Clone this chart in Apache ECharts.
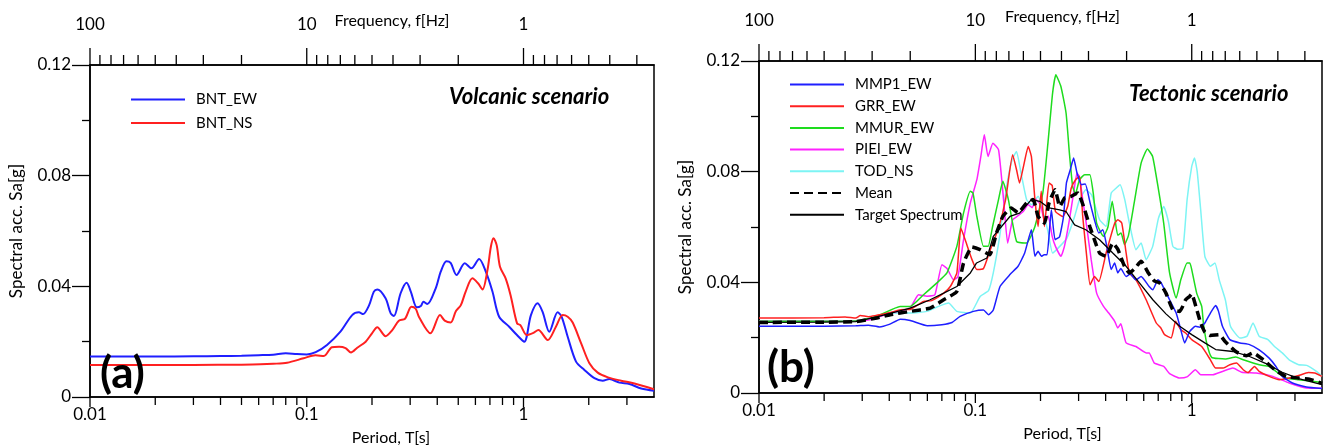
<!DOCTYPE html>
<html>
<head>
<meta charset="utf-8">
<title>Response spectra</title>
<script src="https://cdn.jsdelivr.net/npm/echarts@6/dist/echarts.min.js"></script>
<style>
  html, body { margin: 0; padding: 0; background: #ffffff; }
  #chart { width: 1323px; height: 446px; }
</style>
</head>
<body>
<div id="chart"></div>
<script>
// ---- Spectral accelerations [T (s), Sa (g)] ----
// (a) volcanic scenario
const bntEW = [[0.01,0.0146],[0.02,0.0146],[0.03,0.0147],[0.04,0.0148],[0.05,0.0149],[0.06,0.0151],[0.07,0.0153],[0.08,0.0158],[0.09,0.0155],[0.1,0.0154],[0.11,0.0162],[0.124,0.0188],[0.143,0.0236],[0.162,0.0296],[0.174,0.0306],[0.182,0.03],[0.194,0.0332],[0.204,0.0381],[0.2115,0.0389],[0.231,0.0357],[0.244,0.0302],[0.2525,0.0293],[0.271,0.0375],[0.289,0.0413],[0.302,0.0381],[0.322,0.0324],[0.336,0.0329],[0.345,0.0344],[0.36,0.0336],[0.3935,0.0393],[0.415,0.0453],[0.441,0.0491],[0.461,0.0485],[0.491,0.0441],[0.536,0.0483],[0.575,0.0465],[0.624,0.0499],[0.67,0.0453],[0.719,0.0381],[0.772,0.029],[0.859,0.0254],[0.933,0.0224],[1.008,0.02],[1.082,0.0296],[1.161,0.0339],[1.225,0.0308],[1.315,0.0236],[1.437,0.0306],[1.5,0.029],[1.599,0.0218],[1.747,0.0128],[1.909,0.0098],[2.124,0.0068],[2.32,0.0059],[2.49,0.0065],[2.77,0.0052],[3.08,0.0047],[3.49,0.0031],[4.0,0.0023]];
const bntNS = [[0.01,0.0116],[0.03,0.0116],[0.05,0.0117],[0.0612,0.0118],[0.07,0.012],[0.0812,0.0124],[0.0967,0.014],[0.1097,0.0151],[0.12,0.0148],[0.1306,0.018],[0.141,0.0182],[0.151,0.0177],[0.16,0.0161],[0.171,0.0178],[0.187,0.02],[0.2,0.023],[0.2115,0.0252],[0.231,0.022],[0.248,0.0242],[0.266,0.0276],[0.284,0.0283],[0.304,0.0326],[0.318,0.0319],[0.33,0.0288],[0.372,0.023],[0.412,0.0296],[0.433,0.0276],[0.461,0.0269],[0.488,0.0311],[0.514,0.0332],[0.541,0.0381],[0.581,0.0429],[0.617,0.0411],[0.647,0.0389],[0.682,0.0459],[0.707,0.0543],[0.727,0.0574],[0.752,0.0549],[0.779,0.0471],[0.827,0.0429],[0.871,0.0369],[0.934,0.0266],[0.967,0.026],[1.036,0.0224],[1.111,0.0232],[1.171,0.0242],[1.293,0.0206],[1.411,0.0254],[1.516,0.0296],[1.599,0.029],[1.686,0.0269],[1.845,0.0194],[2.014,0.0122],[2.2,0.0088],[2.45,0.0071],[2.82,0.0059],[3.25,0.0049],[4.0,0.0028]];

// (b) tectonic scenario
const mmp1EW = [[0.01,0.0241],[0.02,0.0241],[0.028,0.0243],[0.032,0.0245],[0.036,0.0239],[0.04,0.0248],[0.045,0.0267],[0.05,0.0262],[0.06,0.0243],[0.07,0.0247],[0.078,0.0255],[0.085,0.0277],[0.098,0.0295],[0.109,0.03],[0.115,0.0283],[0.121,0.03],[0.13,0.0385],[0.1445,0.0428],[0.1575,0.0458],[0.169,0.0506],[0.1815,0.059],[0.1885,0.0494],[0.195,0.0512],[0.202,0.0494],[0.208,0.05],[0.2145,0.05],[0.2245,0.0662],[0.2335,0.0554],[0.245,0.0565],[0.2555,0.0638],[0.2635,0.0759],[0.2745,0.0807],[0.2845,0.0849],[0.295,0.0795],[0.3095,0.0753],[0.322,0.0755],[0.339,0.0687],[0.355,0.0626],[0.372,0.0578],[0.388,0.059],[0.405,0.053],[0.4245,0.0446],[0.44,0.047],[0.4555,0.0434],[0.47,0.045],[0.4975,0.0421],[0.52,0.043],[0.5525,0.0409],[0.5835,0.0421],[0.6355,0.0385],[0.661,0.0373],[0.698,0.0409],[0.72,0.04],[0.79,0.0337],[0.8475,0.0289],[0.89,0.0229],[0.9275,0.0181],[0.9775,0.0222],[1.04,0.0241],[1.09,0.0238],[1.15,0.0253],[1.22,0.0289],[1.29,0.0316],[1.33,0.0295],[1.387,0.0241],[1.5,0.0193],[1.67,0.0181],[1.85,0.0175],[2.05,0.0156],[2.28,0.0126],[2.45,0.0096],[2.62,0.006],[2.92,0.0036],[3.39,0.0022],[4.0,0.0016]];
const grrEW = [[0.01,0.0271],[0.02,0.0272],[0.025,0.0275],[0.028,0.0271],[0.0294,0.028],[0.032,0.0276],[0.0404,0.0291],[0.0449,0.0301],[0.05,0.0302],[0.0576,0.0331],[0.0628,0.0334],[0.0714,0.0361],[0.0766,0.0385],[0.0821,0.0434],[0.0857,0.0596],[0.0897,0.0554],[0.0965,0.0482],[0.1016,0.0446],[0.109,0.045],[0.1172,0.0518],[0.128,0.0596],[0.138,0.07],[0.1487,0.0861],[0.155,0.0807],[0.16,0.0759],[0.167,0.082],[0.1755,0.0891],[0.1815,0.0855],[0.1885,0.0699],[0.195,0.0602],[0.2015,0.0729],[0.2085,0.0602],[0.219,0.0759],[0.2265,0.075],[0.2345,0.0656],[0.2535,0.0638],[0.267,0.0674],[0.2775,0.0741],[0.29,0.077],[0.303,0.0783],[0.3135,0.0638],[0.327,0.0494],[0.339,0.0391],[0.355,0.0421],[0.372,0.0403],[0.402,0.0506],[0.4405,0.0614],[0.4555,0.0626],[0.475,0.0614],[0.4975,0.0506],[0.515,0.0434],[0.5525,0.0409],[0.6155,0.0337],[0.6855,0.0253],[0.72,0.0235],[0.749,0.0211],[0.804,0.0199],[0.842,0.0259],[0.89,0.0229],[0.9375,0.0217],[1.0,0.0193],[1.112,0.0168],[1.22,0.012],[1.29,0.009],[1.4,0.009],[1.5,0.0102],[1.61,0.0108],[1.73,0.0084],[1.82,0.0074],[1.95,0.0096],[2.05,0.0078],[2.28,0.006],[2.54,0.0048],[2.82,0.0054],[3.12,0.0063],[3.46,0.0074],[3.7,0.0072],[4.0,0.006]];
const mmurEW = [[0.01,0.0259],[0.02,0.0259],[0.028,0.026],[0.035,0.0277],[0.0449,0.0313],[0.05,0.0313],[0.0576,0.0355],[0.0664,0.0398],[0.0739,0.0434],[0.0821,0.053],[0.0882,0.0651],[0.0948,0.0729],[0.0975,0.0723],[0.1016,0.0638],[0.109,0.053],[0.1145,0.053],[0.12,0.06],[0.128,0.07],[0.134,0.0765],[0.142,0.07],[0.155,0.0548],[0.1725,0.0542],[0.1885,0.0602],[0.205,0.0723],[0.2165,0.0904],[0.2275,0.1084],[0.2355,0.115],[0.2485,0.1108],[0.2625,0.1012],[0.272,0.0867],[0.2815,0.0747],[0.29,0.072],[0.303,0.0771],[0.32,0.0789],[0.338,0.0789],[0.3505,0.0723],[0.3635,0.0614],[0.391,0.0566],[0.41,0.06],[0.429,0.0693],[0.4405,0.0638],[0.455,0.057],[0.4715,0.0578],[0.489,0.0536],[0.51,0.057],[0.542,0.0687],[0.5835,0.0831],[0.624,0.0882],[0.6595,0.0855],[0.702,0.0735],[0.742,0.0614],[0.79,0.0434],[0.8475,0.0343],[0.89,0.0409],[0.952,0.047],[0.98,0.047],[1.0,0.0446],[1.054,0.0361],[1.112,0.0313],[1.132,0.0253],[1.173,0.018],[1.236,0.0129],[1.43,0.0123],[1.6,0.013],[1.73,0.012],[2.05,0.0102],[2.28,0.0096],[2.45,0.0078],[2.73,0.0054],[3.12,0.0048],[4.0,0.0038]];
const pieiEW = [[0.01,0.0259],[0.02,0.0259],[0.028,0.026],[0.033,0.0266],[0.0404,0.0289],[0.0499,0.0307],[0.0546,0.0355],[0.06,0.035],[0.065,0.0355],[0.0701,0.0464],[0.074,0.045],[0.0793,0.0409],[0.083,0.042],[0.0882,0.0554],[0.0948,0.0687],[0.1016,0.0771],[0.106,0.0855],[0.11,0.0933],[0.1144,0.0855],[0.1205,0.0903],[0.128,0.0879],[0.135,0.0699],[0.141,0.0542],[0.1487,0.0626],[0.157,0.064],[0.1664,0.0656],[0.1755,0.0681],[0.183,0.067],[0.1905,0.0699],[0.2,0.068],[0.2085,0.0626],[0.217,0.064],[0.2265,0.0566],[0.2345,0.053],[0.2485,0.0494],[0.258,0.053],[0.272,0.0626],[0.2845,0.0723],[0.295,0.0795],[0.303,0.078],[0.3135,0.0699],[0.327,0.0602],[0.343,0.0482],[0.3635,0.0361],[0.391,0.0313],[0.4135,0.0289],[0.4405,0.0259],[0.455,0.0235],[0.47,0.025],[0.4975,0.0181],[0.5525,0.0168],[0.6155,0.0145],[0.6355,0.0145],[0.672,0.0108],[0.742,0.0096],[0.79,0.007],[0.88,0.0054],[0.95,0.0058],[1.04,0.0084],[1.1,0.0066],[1.25,0.0066],[1.387,0.0078],[1.55,0.009],[1.7,0.0075],[1.985,0.0072],[2.37,0.006],[2.82,0.0036],[3.39,0.0018],[4.0,0.0017]];
const todNS = [[0.01,0.0259],[0.02,0.0259],[0.03,0.0262],[0.0404,0.0289],[0.05,0.0289],[0.0597,0.0295],[0.0676,0.0313],[0.0752,0.0325],[0.0821,0.0295],[0.0948,0.0289],[0.1052,0.0349],[0.115,0.037],[0.121,0.0434],[0.1295,0.0566],[0.1395,0.0747],[0.1478,0.0843],[0.155,0.0873],[0.1615,0.0807],[0.1725,0.0699],[0.182,0.068],[0.195,0.0711],[0.205,0.066],[0.2165,0.0584],[0.2275,0.0506],[0.2455,0.053],[0.265,0.056],[0.2875,0.0638],[0.303,0.0699],[0.324,0.0735],[0.345,0.0715],[0.375,0.0626],[0.402,0.0602],[0.4245,0.0723],[0.448,0.0741],[0.4665,0.0753],[0.49,0.07],[0.515,0.0614],[0.5525,0.0518],[0.5835,0.0542],[0.6155,0.0482],[0.66,0.053],[0.702,0.0632],[0.742,0.0674],[0.78,0.062],[0.818,0.053],[0.86,0.052],[0.911,0.0524],[0.952,0.0699],[1.0,0.0819],[1.03,0.0849],[1.06,0.08],[1.1,0.0662],[1.15,0.0494],[1.22,0.0458],[1.28,0.047],[1.34,0.0409],[1.43,0.0337],[1.51,0.0241],[1.67,0.0199],[1.8,0.0205],[1.92,0.0253],[2.05,0.0205],[2.25,0.0193],[2.4,0.017],[2.62,0.0145],[2.82,0.012],[3.12,0.0102],[3.4,0.01],[3.77,0.0078],[4.0,0.006]];
const meanSa = [[0.01,0.0255],[0.02,0.0256],[0.028,0.0258],[0.035,0.0271],[0.0404,0.0283],[0.05,0.0295],[0.0618,0.0307],[0.0714,0.0337],[0.0821,0.0367],[0.0882,0.047],[0.0965,0.0528],[0.1052,0.0518],[0.1165,0.05],[0.1252,0.0578],[0.134,0.0638],[0.1465,0.0669],[0.1575,0.0651],[0.1725,0.0687],[0.185,0.0699],[0.195,0.0638],[0.2085,0.0614],[0.219,0.0687],[0.2335,0.0735],[0.2455,0.0674],[0.2585,0.0705],[0.2775,0.0711],[0.2975,0.0723],[0.32,0.0662],[0.338,0.0602],[0.355,0.0554],[0.375,0.0506],[0.402,0.0494],[0.4315,0.0542],[0.455,0.052],[0.489,0.0458],[0.515,0.0434],[0.545,0.045],[0.5835,0.0476],[0.63,0.0434],[0.672,0.0405],[0.71,0.0398],[0.76,0.0361],[0.818,0.0301],[0.88,0.0295],[0.9375,0.0337],[0.9775,0.0349],[1.0,0.0358],[1.05,0.0307],[1.1,0.0253],[1.15,0.022],[1.22,0.0208],[1.34,0.0211],[1.43,0.0185],[1.61,0.0148],[1.79,0.0135],[1.92,0.0145],[2.14,0.012],[2.45,0.0081],[2.73,0.006],[3.12,0.0054],[3.5,0.005],[4.0,0.0035]];
const targetSa = [[0.01,0.0255],[0.02,0.0256],[0.028,0.0258],[0.035,0.0275],[0.05,0.0307],[0.0618,0.0337],[0.0714,0.0361],[0.0821,0.0385],[0.0948,0.0434],[0.1013,0.047],[0.1131,0.0488],[0.121,0.0566],[0.1445,0.0638],[0.16,0.065],[0.1815,0.0699],[0.1985,0.0693],[0.219,0.0669],[0.2455,0.0662],[0.2625,0.0656],[0.2875,0.0608],[0.324,0.059],[0.375,0.0554],[0.4315,0.0506],[0.4975,0.0458],[0.573,0.0398],[0.661,0.0337],[0.76,0.0286],[0.88,0.0241],[1.0,0.0211],[1.15,0.0181],[1.29,0.0157],[1.55,0.015],[1.85,0.0132],[2.22,0.0105],[2.62,0.0075],[3.12,0.0052],[4.0,0.003]];

// ---- Axis ticks ----
const periodMajorTicks = [0.01, 0.1, 1];
const periodMinorTicks = [0.02,0.03,0.04,0.05,0.06,0.07,0.08,0.09,0.2,0.3,0.4,0.5,0.6,0.7,0.8,0.9,2,3];
const freqMajorTicks = [100, 10, 1];
const freqMinorTicks = [90,80,70,60,50,40,30,20,9,8,7,6,5,4,3,2,0.9,0.8,0.7,0.6,0.5,0.4,0.3];
const periodRange = [0.01, 4];
const freqRange = [0.25, 100];
const saRange = [0, 0.12];
const saStep = 0.04;

const FONT = 'Lato';
const BLACK = '#000000';

function decadeLabel(v) {
  const e = Math.log10(v);
  if (Math.abs(e - Math.round(e)) > 1e-6) return '';
  return String(+v.toPrecision(3));
}

// short vertical strokes drawn at axis values along the bottom or top edge
function tickSeries(xIdx, yIdx, values, yVal, dir, len) {
  return {
    type: 'custom',
    xAxisIndex: xIdx,
    yAxisIndex: yIdx,
    silent: true,
    clip: false,
    z: 6,
    data: values.map(v => [v, yVal]),
    encode: { x: 0, y: 1 },
    renderItem: function (params, api) {
      const p = api.coord([api.value(0), api.value(1)]);
      return {
        type: 'line',
        shape: { x1: p[0], y1: p[1], x2: p[0], y2: p[1] + dir * len },
        style: { stroke: BLACK, lineWidth: 1.3 }
      };
    }
  };
}

function periodAxis(gridIndex, nameShift) {
  return {
    type: 'log', gridIndex: gridIndex, position: 'bottom',
    min: periodRange[0], max: periodRange[1], logBase: 10,
    name: 'Period, T[s]', nameLocation: 'middle', nameGap: 33, nameMoveOverlap: false,
    nameTextStyle: { fontFamily: FONT, fontSize: 16, color: BLACK, padding: [0, 0, 0, nameShift] },
    axisLine: { show: true, lineStyle: { color: BLACK, width: 1.5 } },
    axisTick: { show: false },
    minorTick: { show: false },
    splitLine: { show: false },
    axisLabel: { fontFamily: FONT, fontSize: 17, color: BLACK, margin: 9,
                 showMaxLabel: false, formatter: decadeLabel }
  };
}

function freqAxis(gridIndex, nameShift) {
  return {
    type: 'log', gridIndex: gridIndex, position: 'top', inverse: true,
    min: freqRange[0], max: freqRange[1], logBase: 10,
    name: 'Frequency, f[Hz]', nameLocation: 'middle', nameGap: 36, nameMoveOverlap: false,
    nameTextStyle: { fontFamily: FONT, fontSize: 16, color: BLACK, padding: [0, nameShift, 0, 0] },
    axisLine: { show: true, lineStyle: { color: BLACK, width: 1.5 } },
    axisTick: { show: false },
    minorTick: { show: false },
    splitLine: { show: false },
    axisLabel: { fontFamily: FONT, fontSize: 17, color: BLACK, margin: 32,
                 showMinLabel: false, formatter: decadeLabel }
  };
}

function saAxis(gridIndex) {
  return {
    type: 'value', gridIndex: gridIndex,
    min: saRange[0], max: saRange[1], interval: saStep,
    name: 'Spectral acc. Sa[g]', nameLocation: 'middle', nameGap: 65, nameMoveOverlap: false,
    nameTextStyle: { fontFamily: FONT, fontSize: 17, color: BLACK },
    axisLine: { show: true, lineStyle: { color: BLACK, width: 1.5 } },
    axisTick: { show: true, inside: false, length: 18, lineStyle: { color: BLACK, width: 1.3 } },
    minorTick: { show: true, splitNumber: 2, length: 8, lineStyle: { color: BLACK, width: 1.3 } },
    splitLine: { show: false },
    minorSplitLine: { show: false },
    axisLabel: { fontFamily: FONT, fontSize: 17, color: BLACK, margin: 19,
                 formatter: v => (v === 0 ? '0' : v.toFixed(2)) }
  };
}

function spectrum(name, data, color, xIdx, yIdx, width, extra) {
  return Object.assign({
    name: name, type: 'line', data: data,
    xAxisIndex: xIdx, yAxisIndex: yIdx,
    symbol: 'none', showSymbol: false, clip: true,
    lineStyle: { color: color, width: width },
    itemStyle: { color: color },
    z: 3
  }, extra || {});
}

const legendText = { fontFamily: FONT, fontSize: 15, color: BLACK, padding: [0, 0, 0, 6] };
// the legend shows the line sample only, no marker
const legendMarker = { opacity: 0, borderWidth: 0 };

const option = {
  animation: false,
  backgroundColor: '#ffffff',
  textStyle: { fontFamily: FONT },
  grid: [
    { left: 90, top: 65, width: 564, height: 332, outerBoundsMode: 'none', containLabel: false,
      show: true, borderColor: BLACK, borderWidth: 1.5, backgroundColor: 'transparent' },
    { left: 759, top: 61, width: 563, height: 332, outerBoundsMode: 'none', containLabel: false,
      show: true, borderColor: BLACK, borderWidth: 1.5, backgroundColor: 'transparent' }
  ],
  xAxis: [periodAxis(0, 38), freqAxis(0, -40), periodAxis(1, 44), freqAxis(1, -44)],
  yAxis: [saAxis(0), saAxis(1)],
  title: [
    { text: 'Volcanic scenario', left: 444, top: 81,
      textStyle: { fontFamily: FONT, fontSize: 22, fontWeight: 'bold', fontStyle: 'italic', color: BLACK } },
    { text: 'Tectonic scenario', left: 1124, top: 78,
      textStyle: { fontFamily: FONT, fontSize: 22, fontWeight: 'bold', fontStyle: 'italic', color: BLACK } },
    { text: '(a)', left: 95, top: 347,
      textStyle: { fontFamily: FONT, fontSize: 44, fontWeight: 'bold', color: BLACK } },
    { text: '(b)', left: 762, top: 341,
      textStyle: { fontFamily: FONT, fontSize: 44, fontWeight: 'bold', color: BLACK } }
  ],
  legend: [
    { data: ['BNT_EW', 'BNT_NS'], orient: 'vertical', left: 130, top: 92,
      itemWidth: 54, itemHeight: 14, itemGap: 8.5, padding: 0, textStyle: legendText,
      itemStyle: legendMarker, selectedMode: false },
    { data: ['MMP1_EW', 'GRR_EW', 'MMUR_EW', 'PIEI_EW', 'TOD_NS', 'Mean', 'Target Spectrum'],
      orient: 'vertical', left: 789, top: 77,
      itemWidth: 54, itemHeight: 14, itemGap: 6.7, padding: 0, textStyle: legendText,
      itemStyle: legendMarker, selectedMode: false }
  ],
  series: [
    spectrum('BNT_EW', bntEW, '#1f1fff', 0, 0, 2, { smooth: 0.3 }),
    spectrum('BNT_NS', bntNS, '#ff2020', 0, 0, 2, { smooth: 0.3 }),

    spectrum('TOD_NS', todNS, '#7df4f4', 2, 1, 1.5, { smooth: 0.15 }),
    spectrum('PIEI_EW', pieiEW, '#ff22ff', 2, 1, 1.5, { smooth: 0.15 }),
    spectrum('MMUR_EW', mmurEW, '#1edc1e', 2, 1, 1.5, { smooth: 0.15 }),
    spectrum('GRR_EW', grrEW, '#ff2020', 2, 1, 1.5, { smooth: 0.15 }),
    spectrum('MMP1_EW', mmp1EW, '#1f1fff', 2, 1, 1.5, { smooth: 0.15 }),
    spectrum('Target Spectrum', targetSa, BLACK, 2, 1, 1.3, { z: 4 }),
    spectrum('Mean', meanSa, BLACK, 2, 1, 3.5, { smooth: 0.15, z: 5,
      lineStyle: { color: BLACK, width: 3.5, type: [9, 5] } }),

    tickSeries(0, 0, periodMajorTicks, saRange[0], 1, 10),
    tickSeries(0, 0, periodMinorTicks, saRange[0], 1, 8),
    tickSeries(1, 0, freqMajorTicks, saRange[1], -1, 17),
    tickSeries(1, 0, freqMinorTicks, saRange[1], -1, 10),
    tickSeries(2, 1, periodMajorTicks, saRange[0], 1, 10),
    tickSeries(2, 1, periodMinorTicks, saRange[0], 1, 8),
    tickSeries(3, 1, freqMajorTicks, saRange[1], -1, 17),
    tickSeries(3, 1, freqMinorTicks, saRange[1], -1, 10)
  ]
};

const chart = echarts.init(document.getElementById('chart'), null, { renderer: 'canvas' });
chart.setOption(option);
</script>
</body>
</html>
